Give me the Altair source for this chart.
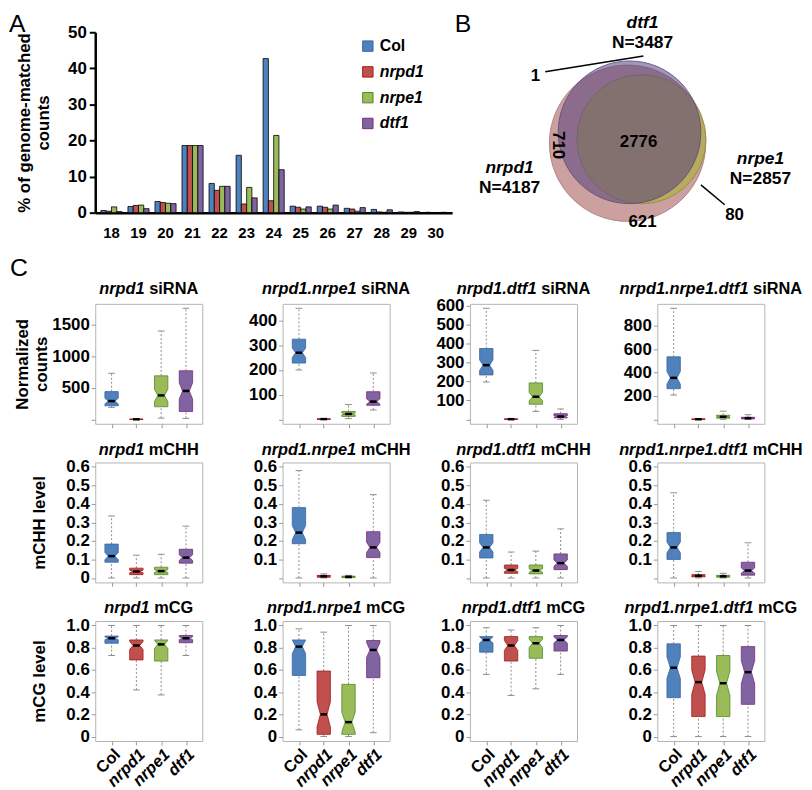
import math
import altair as alt
import pandas as pd

FONT = "Liberation Sans"

# ---------------- Panel A: size distribution ----------------
SIZE_CLASSES = ["18", "19", "20", "21", "22", "23", "24", "25", "26", "27", "28", "29", "30"]
GENOTYPES = ["Col", "nrpd1", "nrpe1", "dtf1"]
PCT_COL = [0.6, 1.7, 3.1, 18.6, 8.1, 15.9, 42.7, 1.8, 1.8, 1.2, 0.9, 0.2, 0.1]
PCT_NRPD1 = [0.4, 2.0, 2.8, 18.6, 6.2, 2.4, 3.3, 1.5, 1.5, 1.0, 0.2, 0.1, 0.05]
PCT_NRPE1 = [1.6, 2.1, 2.6, 18.6, 7.3, 7.0, 21.4, 1.0, 1.0, 0.4, 0.1, 0.1, 0.05]
PCT_DTF1 = [0.3, 1.1, 2.5, 18.6, 7.3, 4.1, 11.9, 1.6, 2.1, 1.4, 0.8, 0.3, 0.1]

BAR_COLORS = ["#4f81bd", "#c0504d", "#9bbb59", "#8064a2"]
BOX_FILL = ["#4a7dbd", "#cc2424", "#68a93c", "#9a3e9c"]
BOX_STROKE = ["#3a65a0", "#a41a1a", "#4f8a2a", "#7a2a7c"]

# ---------------- Panel B: Venn ----------------
VENN_SETS = ["nrpd1", "nrpe1", "dtf1"]
VENN_N = [4187, 2857, 3487]
VENN_CX = [0.0, 0.157, 0.022]      # centres, in units of the nrpd1 radius
VENN_CY = [0.0, 0.045, 0.124]
VENN_FILL = ["#cca09e", "#aab428", "#584180"]
VENN_OPACITY = [1.0, 0.55, 0.55]
VENN_STROKE = ["#a07c7c", "#8a8a40", "#5a4a7a"]

SET_LABEL_X = [-1.337, 1.506, 0.169]
SET_LABEL_Y = [-0.281, -0.18, 1.36]
N_LABEL_Y = [-0.506, -0.404, 1.13]

REGION_COUNTS = ["2776", "710", "621", "80", "1"]
REGION_X = [0.124, -0.787, 0.169, 1.213, -1.045]
REGION_Y = [0.011, -0.022, -0.899, -0.809, 0.764]
REGION_ANGLE = [0, 90, 0, 0, 0]

LEADER_X = [-0.933, 0.831]
LEADER_Y = [0.809, -0.472]
LEADER_X2 = [0.180, 1.101]
LEADER_Y2 = [0.989, -0.697]

# ---------------- Panel C: box plots (Col, nrpd1, nrpe1, dtf1) ----------------
PANEL_NAMES = [
    ("nrpd1", "siRNA"), ("nrpd1.nrpe1", "siRNA"), ("nrpd1.dtf1", "siRNA"), ("nrpd1.nrpe1.dtf1", "siRNA"),
    ("nrpd1", "mCHH"), ("nrpd1.nrpe1", "mCHH"), ("nrpd1.dtf1", "mCHH"), ("nrpd1.nrpe1.dtf1", "mCHH"),
    ("nrpd1", "mCG"), ("nrpd1.nrpe1", "mCG"), ("nrpd1.dtf1", "mCG"), ("nrpd1.nrpe1.dtf1", "mCG"),
]
# each entry: [lo, q1, median, q3, hi] per genotype
BOX_STATS = [
    [[190, 215, 290, 440, 730], [0, 0, 1, 3, 6], [20, 200, 380, 690, 1400], [15, 125, 450, 770, 1760]],
    [[200, 228, 270, 325, 450], [0, 0, 1, 2, 3], [3, 12, 22, 32, 60], [38, 57, 72, 112, 188]],
    [[198, 235, 287, 375, 588], [0, 0, 1, 2, 4], [42, 80, 120, 193, 365], [0, 8, 15, 30, 55]],
    [[208, 262, 355, 535, 950], [0, 0, 1, 3, 5], [0, 10, 22, 35, 70], [0, 4, 10, 18, 40]],
    [[0, 0.085, 0.118, 0.183, 0.335], [0, 0.018, 0.035, 0.053, 0.123], [0, 0.018, 0.037, 0.058, 0.128], [0, 0.08, 0.11, 0.155, 0.28]],
    [[0, 0.185, 0.245, 0.38, 0.58], [0, 0.004, 0.009, 0.014, 0.022], [0, 0.002, 0.006, 0.01, 0.014], [0, 0.11, 0.165, 0.25, 0.45]],
    [[0, 0.108, 0.165, 0.235, 0.42], [0, 0.025, 0.043, 0.07, 0.14], [0, 0.022, 0.04, 0.07, 0.145], [0, 0.045, 0.08, 0.13, 0.265]],
    [[0, 0.1, 0.165, 0.245, 0.46], [0, 0.006, 0.012, 0.018, 0.035], [0, 0.004, 0.009, 0.014, 0.025], [0, 0.015, 0.04, 0.085, 0.19]],
    [[0.73, 0.84, 0.885, 0.905, 1.0], [0.42, 0.69, 0.82, 0.87, 1.0], [0.375, 0.68, 0.83, 0.87, 1.0], [0.73, 0.845, 0.885, 0.91, 1.0]],
    [[0.06, 0.55, 0.81, 0.87, 0.97], [0.0, 0.02, 0.2, 0.59, 0.94], [0.0, 0.02, 0.13, 0.47, 1.0], [0.035, 0.53, 0.78, 0.865, 1.0]],
    [[0.56, 0.76, 0.87, 0.9, 0.98], [0.37, 0.68, 0.82, 0.9, 0.96], [0.43, 0.705, 0.84, 0.9, 0.98], [0.56, 0.77, 0.87, 0.91, 1.0]],
    [[0.0, 0.35, 0.62, 0.835, 1.0], [0.0, 0.18, 0.49, 0.725, 1.0], [0.0, 0.18, 0.48, 0.73, 1.0], [0.0, 0.29, 0.58, 0.81, 1.0]],
]
Y_DOMAINS = [[-70, 1830], [-18, 468], [-23.5, 611.5], [-38, 988]] + [[-0.024, 0.624]] * 4 + [[-0.04, 1.04]] * 4
Y_TICKS = [[0, 500, 1000, 1500], [0, 100, 200, 300, 400], [0, 100, 200, 300, 400, 500, 600], [0, 200, 400, 600, 800]] \
    + [[0, 0.1, 0.2, 0.3, 0.4, 0.5, 0.6]] * 4 + [[0, 0.2, 0.4, 0.6, 0.8, 1.0]] * 4
ROW_TITLES = [["Normalized", "counts"], "mCHH level", "mCG level"]

# ---------------- layout constants ----------------
BAR_W, BAR_H = 360, 182
VENN_W, VENN_H = 320, 182
R_PX = 89.0
PW, PH = 108, 121
HALF = 0.27

CW = {'n': .611, 'r': .389, 'p': .611, 'd': .611, '1': .556, '.': .278, 'e': .556, 't': .333, 'f': .333,
      ' ': .278, 's': .556, 'i': .278, 'R': .722, 'N': .722, 'A': .722, 'm': .889, 'C': .722, 'H': .722, 'G': .778}


def tw(s, size):
    return sum(CW.get(ch, 0.6) for ch in s) * size


# ---------------- Panel A chart ----------------
rows = []
for g, vals in zip(GENOTYPES, [PCT_COL, PCT_NRPD1, PCT_NRPE1, PCT_DTF1]):
    for s, v in zip(SIZE_CLASSES, vals):
        rows.append({"size": s, "geno": g, "pct": v})
bar_df = pd.DataFrame(rows)

bars = alt.Chart(bar_df).mark_bar(stroke="black", strokeWidth=0.8).encode(
    x=alt.X("size:N", sort=SIZE_CLASSES,
            scale=alt.Scale(paddingInner=0.22, paddingOuter=0.21),
            axis=alt.Axis(title=None, labelAngle=0, labelFontSize=15, labelFontWeight="bold",
                          labelColor="black", labelPadding=13, ticks=False, domainColor="black",
                          domainWidth=2.5)),
    xOffset=alt.XOffset("geno:N", sort=GENOTYPES, scale=alt.Scale(paddingInner=0, paddingOuter=0)),
    y=alt.Y("pct:Q", scale=alt.Scale(domain=[0, 50]),
            axis=alt.Axis(values=[0, 10, 20, 30, 40, 50], title=["% of genome-matched", "counts"],
                          titleFontSize=17, titleFontWeight="bold", titleColor="black",
                          titleX=-71, titleY=BAR_H / 2, titleAngle=-90, titleAlign="center",
                          titleBaseline="middle", labelFontSize=17, labelFontWeight="bold",
                          labelColor="black", tickColor="black", tickWidth=2, tickSize=6,
                          labelPadding=3, domainColor="black", domainWidth=2.5, grid=False)),
    fill=alt.Fill("geno:N", sort=GENOTYPES, scale=alt.Scale(domain=GENOTYPES, range=BAR_COLORS),
                  legend=alt.Legend(title=None, orient="none", legendX=267, legendY=6,
                                    symbolType="square", symbolSize=110, symbolStrokeColor="black",
                                    symbolStrokeWidth=1, labelFontSize=16, labelFontWeight="bold",
                                    labelColor="black", labelOffset=4, rowPadding=10,
                                    labelFontStyle={"expr": "datum.label == 'Col' ? 'normal' : 'italic'"})),
)
letter_a = alt.Chart(alt.Data(values=[{"t": "A"}])).mark_text(
    fontSize=25, align="left", baseline="middle", color="black").encode(
    text="t:N", x=alt.value(-87), y=alt.value(-8))
bar_chart = alt.layer(bars, letter_a).properties(
    width=BAR_W, height=BAR_H, view=alt.ViewBackground(stroke="transparent"))

# ---------------- Panel B chart ----------------
venn_df = pd.DataFrame({"set": VENN_SETS, "n": VENN_N, "cx": VENN_CX, "cy": VENN_CY})
xs = alt.Scale(domain=[-1.764, 1.831])
ys = alt.Scale(domain=[-0.787, 1.258])
size_scale = alt.Scale(domain=[0, 4187], range=[0, math.pi * R_PX ** 2])
circle_layers = []
for sname, fcol, fop, scol in zip(VENN_SETS, VENN_FILL, VENN_OPACITY, VENN_STROKE):
    circle_layers.append(
        alt.Chart(venn_df).transform_filter(alt.datum.set == sname).mark_point(
            shape="circle", filled=True, fill=fcol, fillOpacity=fop, opacity=1,
            stroke=scol, strokeWidth=0.9, strokeOpacity=0.9).encode(
            x=alt.X("cx:Q", scale=xs, axis=None),
            y=alt.Y("cy:Q", scale=ys, axis=None),
            size=alt.Size("n:Q", scale=size_scale, legend=None)))
set_df = pd.DataFrame({"set": VENN_SETS, "x": SET_LABEL_X, "y": SET_LABEL_Y, "ny": N_LABEL_Y,
                       "ntext": ["N=%d" % n for n in VENN_N]})
set_names = alt.Chart(set_df).mark_text(fontSize=17.5, fontWeight="bold", fontStyle="italic", color="black").encode(
    x=alt.X("x:Q", scale=xs, axis=None), y=alt.Y("y:Q", scale=ys, axis=None), text="set:N")
set_ns = alt.Chart(set_df).mark_text(fontSize=17.5, fontWeight="bold", color="black").encode(
    x=alt.X("x:Q", scale=xs, axis=None), y=alt.Y("ny:Q", scale=ys, axis=None), text="ntext:N")
reg_df = pd.DataFrame({"t": REGION_COUNTS, "x": REGION_X, "y": REGION_Y, "a": REGION_ANGLE})
regions = alt.Chart(reg_df).mark_text(fontSize=17, fontWeight="bold", color="black").encode(
    x=alt.X("x:Q", scale=xs, axis=None), y=alt.Y("y:Q", scale=ys, axis=None), text="t:N",
    angle=alt.Angle("a:Q", scale=None))
lead_df = pd.DataFrame({"x": LEADER_X, "y": LEADER_Y, "x2": LEADER_X2, "y2": LEADER_Y2})
leaders = alt.Chart(lead_df).mark_rule(color="black", strokeWidth=1.5).encode(
    x=alt.X("x:Q", scale=xs, axis=None), y=alt.Y("y:Q", scale=ys, axis=None), x2="x2:Q", y2="y2:Q")
letter_b = alt.Chart(alt.Data(values=[{"t": "B"}])).mark_text(
    fontSize=25, align="center", baseline="middle", color="black").encode(
    text="t:N", x=alt.value(-9), y=alt.value(-8))
venn_chart = alt.layer(*circle_layers, leaders, set_names, set_ns, regions, letter_b).properties(
    width=VENN_W, height=VENN_H, view=alt.ViewBackground(stroke="transparent"))


# ---------------- Panel C charts ----------------
def box_panel(p):
    r, c = divmod(p, 4)
    stats = BOX_STATS[p]
    srows, prow = [], []
    for i, g in enumerate(GENOTYPES):
        lo, q1, med, q3, hi = stats[i]
        pos = i + 1
        iqr = q3 - q1
        nl, nh = max(q1, med - 0.2 * iqr), min(q3, med + 0.2 * iqr)
        srows.append({"geno": g, "pos": pos, "lo": lo, "q1": q1, "med": med, "q3": q3, "hi": hi,
                      "cl": pos - HALF / 2, "cr": pos + HALF / 2})
        outline = [(-HALF, q1), (HALF, q1), (HALF, nl), (HALF / 2, med), (HALF, nh), (HALF, q3),
                   (-HALF, q3), (-HALF, nh), (-HALF / 2, med), (-HALF, nl), (-HALF, q1)]
        for k, (dx, yy) in enumerate(outline):
            prow.append({"geno": g, "k": k, "px": pos + dx, "py": yy})
    sdf = pd.DataFrame(srows)
    pdf = pd.DataFrame(prow)

    ysc = alt.Scale(domain=Y_DOMAINS[p], nice=False, zero=False)
    xsc = alt.Scale(domain=[0.34, 4.66], nice=False, zero=False)
    if r == 0:
        lexpr = "datum.value == 0 ? '' : format(datum.value, 'd')"
    elif r == 1:
        lexpr = ("datum.value < 0.001 ? '0' : format(datum.value, '.1f')" if c == 0
                 else "datum.value < 0.001 ? '' : format(datum.value, '.1f')")
    else:
        lexpr = "datum.value < 0.001 ? '0' : format(datum.value, '.1f')"
    ykw = dict(values=Y_TICKS[p], labelExpr=lexpr, labelFontSize=17, labelFontWeight="bold",
               labelColor="black", labelPadding=2, tickColor="#999999", tickSize=4, domain=False,
               grid=False, labelOverlap=False)
    if c == 0:
        ykw.update(title=ROW_TITLES[r], titleFontSize=17, titleFontWeight="bold", titleColor="black",
                   titleAngle=-90, titleX=(-73 if r == 0 else -56), titleY=PH / 2,
                   titleAlign="center", titleBaseline="middle")
    else:
        ykw["title"] = None
    yax = alt.Axis(**ykw)
    xkw = dict(values=[1, 2, 3, 4], tickColor="#999999", tickSize=4, domain=False, grid=False, title=None)
    if r == 2:
        xkw.update(labelExpr="['', 'Col', 'nrpd1', 'nrpe1', 'dtf1'][datum.value]", labelAngle=-45,
                   labelAlign="right", labelBaseline="top", labelPadding=1, labelFontSize=16.5,
                   labelFontWeight="bold", labelColor="black", labelOverlap=False, labelBound=False,
                   labelFontStyle={"condition": {"test": "datum.value == 1", "value": "normal"},
                                   "value": "italic"})
    else:
        xkw["labels"] = False
    xax = alt.Axis(**xkw)

    base = alt.Chart(sdf)
    dash = dict(color="#8c8c8c", strokeWidth=1, strokeDash=[2, 2])
    w_up = base.mark_rule(**dash).encode(
        x=alt.X("pos:Q", scale=xsc, axis=xax), y=alt.Y("q3:Q", scale=ysc, axis=yax), y2="hi:Q")
    w_dn = base.mark_rule(**dash).encode(
        x=alt.X("pos:Q", scale=xsc, axis=xax), y=alt.Y("lo:Q", scale=ysc, axis=yax), y2="q1:Q")
    cap_hi = base.mark_rule(color="#8c8c8c", strokeWidth=1).encode(
        x=alt.X("cl:Q", scale=xsc, axis=xax), x2="cr:Q", y=alt.Y("hi:Q", scale=ysc, axis=yax))
    cap_lo = base.mark_rule(color="#8c8c8c", strokeWidth=1).encode(
        x=alt.X("cl:Q", scale=xsc, axis=xax), x2="cr:Q", y=alt.Y("lo:Q", scale=ysc, axis=yax))
    box = alt.Chart(pdf).mark_line(strokeWidth=0.8, interpolate="linear").encode(
        x=alt.X("px:Q", scale=xsc, axis=xax),
        y=alt.Y("py:Q", scale=ysc, axis=yax),
        fill=alt.Fill("geno:N", scale=alt.Scale(domain=GENOTYPES, range=BOX_FILL), legend=None),
        stroke=alt.Stroke("geno:N", scale=alt.Scale(domain=GENOTYPES, range=BOX_STROKE), legend=None),
        detail="geno:N", order=alt.Order("k:Q"))
    med = base.mark_rule(color="black", strokeWidth=2.5).encode(
        x=alt.X("cl:Q", scale=xsc, axis=xax), x2="cr:Q", y=alt.Y("med:Q", scale=ysc, axis=yax))

    it, rest = PANEL_NAMES[p]
    fs = 16.5
    wi, ws, wn = tw(it, fs), tw(" ", fs), tw(rest, fs)
    split = PW / 2 - (wi + ws + wn) / 2 + wi
    ty = -15 if r == 0 else -13
    t_it = alt.Chart(alt.Data(values=[{"t": it}])).mark_text(
        fontSize=fs, fontWeight="bold", fontStyle="italic", align="right", baseline="middle",
        color="black").encode(text="t:N", x=alt.value(split), y=alt.value(ty))
    t_rest = alt.Chart(alt.Data(values=[{"t": rest}])).mark_text(
        fontSize=fs, fontWeight="bold", align="left", baseline="middle",
        color="black").encode(text="t:N", x=alt.value(split + ws), y=alt.value(ty))
    layers = [w_up, w_dn, cap_hi, cap_lo, box, med, t_it, t_rest]
    if p == 0:
        layers.append(alt.Chart(alt.Data(values=[{"t": "C"}])).mark_text(
            fontSize=25, align="left", baseline="middle", color="black").encode(
            text="t:N", x=alt.value(-86), y=alt.value(-36)))
    return alt.layer(*layers).properties(
        width=PW, height=PH, view=alt.ViewBackground(stroke="#b4b4b4", strokeWidth=1))


panels = [box_panel(p) for p in range(12)]

top = alt.hconcat(bar_chart, venn_chart, spacing=20, bounds="flush")
grid = alt.concat(*panels, columns=4, spacing={"row": 39, "column": 81}, bounds="flush")
chart = alt.vconcat(top, grid, spacing=14).properties(
    padding={"left": 0, "top": 0, "right": 0, "bottom": 0}
).configure(font=FONT).configure_view(strokeWidth=1)

chart.save("out.html", embed_options={"renderer": "svg", "actions": False})
